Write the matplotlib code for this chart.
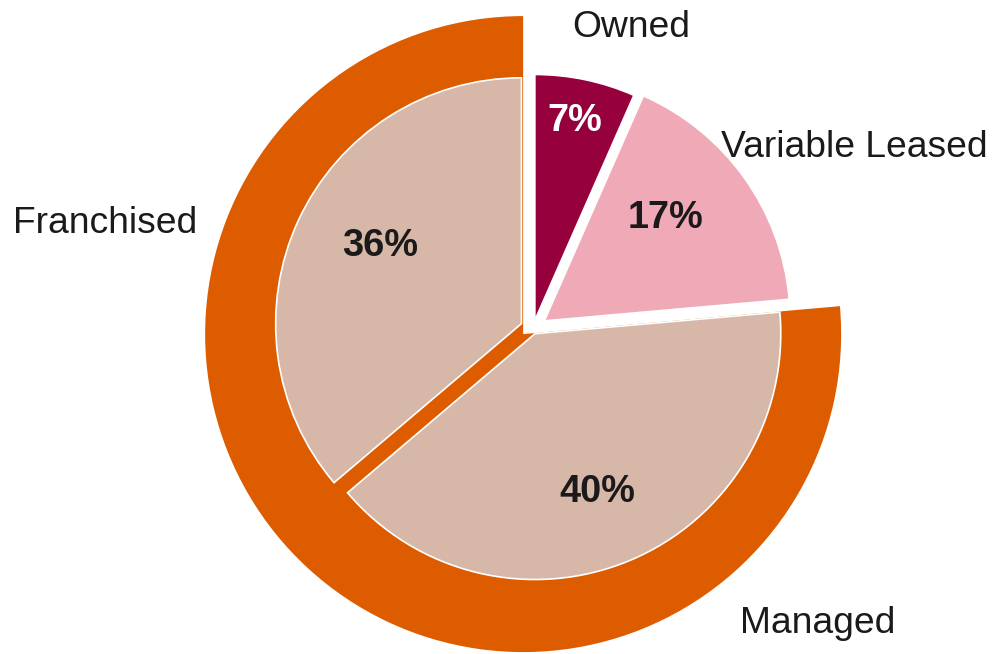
import matplotlib.pyplot as plt

plt.rcParams['font.family'] = ['Liberation Sans', 'DejaVu Sans']

# shares of the portfolio, in percent (clockwise from 12 o'clock)
categories = ["Owned", "Variable Leased", "Managed", "Franchised"]
shares = [6.6, 17.0, 40.2, 36.2]
slice_colors = ["#96003D", "#EFA9B7", "#D6B7A8", "#D6B7A8"]
pct_colors = ["white", "#1A1A1A", "#1A1A1A", "#1A1A1A"]

# outer ring groups: owned + leased (hidden) / managed + franchised
ring_values = [shares[0] + shares[1], shares[2] + shares[3]]
ring_colors = ["none", "#DE5C00"]

fig = plt.figure(figsize=(10.03, 6.54), dpi=100)
ax = fig.add_axes([0, 0, 1, 1])

ax.pie(
    ring_values,
    radius=1.0,
    center=(-0.031, -0.016),
    colors=ring_colors,
    startangle=90,
    counterclock=False,
    wedgeprops=dict(linewidth=0),
)

wedges, texts, autotexts = ax.pie(
    shares,
    radius=0.773,
    colors=slice_colors,
    explode=[0.028, 0.044, 0.016, 0.04],
    startangle=90,
    counterclock=False,
    autopct="%.0f%%",
    wedgeprops=dict(edgecolor="white", linewidth=1.2),
)

# percentage labels, placed as in the original
pct_pos = [(0.132, 0.623), (0.418, 0.318), (0.201, -0.544), (-0.481, 0.230)]
for t, pos, c in zip(autotexts, pct_pos, pct_colors):
    t.set_position(pos)
    t.set_color(c)
    t.set_fontsize(27.3)
    t.set_fontweight("bold")
    t.set_ha("center")
    t.set_va("baseline")

# category labels
label_pos = [(0.124, 0.918, "left"), (0.592, 0.541, "left"),
             (0.652, -0.956, "left"), (-1.057, 0.302, "right")]
for name, (x, y, ha) in zip(categories, label_pos):
    ax.text(x, y, name, fontsize=26.8, color="#1A1A1A", ha=ha, va="baseline")

ax.set_xlim(-533 / 318, (1003 - 533) / 318)
ax.set_ylim((329 - 654) / 318, 329 / 318)
ax.set_aspect("equal", adjustable="box")
ax.axis("off")

plt.savefig("out.png", dpi=100)
plt.close()
